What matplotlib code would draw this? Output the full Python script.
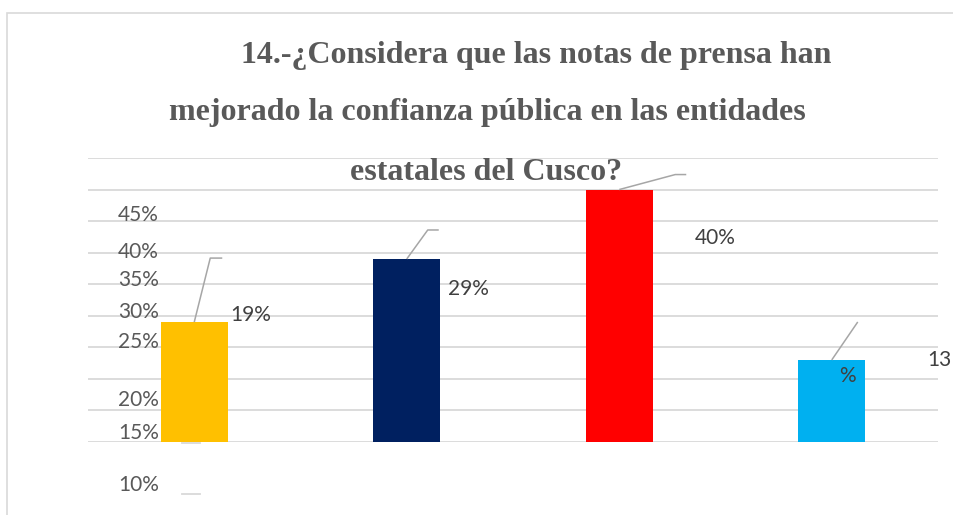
import matplotlib
matplotlib.use("Agg")
import matplotlib.pyplot as plt
from matplotlib.patches import Rectangle

# ---- data ----
categories = ["Sí", "No", "A veces", "No sabe"]
values = [19, 29, 40, 13]
bar_colors = ["#FFC000", "#002060", "#FF0000", "#00B0F0"]
data_labels = ["19%", "29%", "40%", "%"]
tick_labels = ["45%", "40%", "35%", "30%", "25%", "20%", "15%", "10%"]
grid_values = [0, 5, 10, 15, 20, 25, 30, 35, 40, 45]
title_lines = ["14.-¿Considera que las notas de prensa han",
               "mejorado la confianza pública en las entidades",
               "estatales del Cusco?"]

# ---- layout (pixels) ----
W, H = 954, 515
fig = plt.figure(figsize=(W / 100, H / 100), dpi=100)
ax_left, ax_right, ax_bottom_px, ax_top_px = 88, 938, 442, 158
ax = fig.add_axes([ax_left / W, 1 - ax_bottom_px / H,
                   (ax_right - ax_left) / W, (ax_bottom_px - ax_top_px) / H])
ax.set_xlim(-0.5, 3.5)
ax.set_ylim(0, 45)
ax.axis("off")

grid_col = "#D9D9D9"
for g in grid_values:
    ax.axhline(g, color=grid_col, lw=1.3, zorder=0)

x = list(range(len(categories)))
ax.bar(x, values, width=0.316, color=bar_colors, zorder=2)

def px2data(px, py):
    return ax.transData.inverted().transform(fig.transFigure.transform((px / W, 1 - py / H)))

def data2px(dx, dy):
    fx, fy = fig.transFigure.inverted().transform(ax.transData.transform((dx, dy)))
    return fx * W, (1 - fy) * H

# leader lines: offsets (pixels) from bar top centre
leaders = [[(16, -64), (28, -64)],
           [(21, -29), (32, -29)],
           [(56, -15), (67, -15)],
           [(26, -38)]]
label_offsets = [(36, -7), (41, 30), (76, 48), (7, 16)]
lab_font = ["Lato", "DejaVu Sans"]
txt_col = "#404040"
fs = 15
for i, v in enumerate(values):
    bx, by = data2px(i, v)
    pts = [(bx, by)] + [(bx + dx, by + dy) for dx, dy in leaders[i]]
    dpts = [px2data(px, py) for px, py in pts]
    ax.plot([p[0] for p in dpts], [p[1] for p in dpts], color="#A6A6A6",
            lw=1.1, zorder=3, clip_on=False, solid_capstyle="butt")
    lx, ly = px2data(bx + label_offsets[i][0], by + label_offsets[i][1])
    ax.text(lx, ly, data_labels[i], ha="left", va="center", fontsize=fs,
            color=txt_col, family=lab_font, zorder=4, clip_on=False)

# stray "13" fragment at right edge
fig.text(952 / W, 1 - 360 / H, "13", ha="right", va="center", fontsize=fs,
         color=txt_col, family=lab_font)

# misplaced axis labels
tick_y_px = [215, 252, 280, 312, 342, 400, 433, 485]
for lab, ty in zip(tick_labels, tick_y_px):
    fig.text(159 / W, 1 - ty / H, lab, ha="right", va="center", fontsize=fs,
             color="#595959", family=lab_font)

# small grey tick marks
for ty in [443, 494]:
    fig.add_artist(plt.Line2D([182 / W, 200 / W], [1 - ty / H, 1 - ty / H],
                              color=grid_col, lw=1.3))

# title
title_pos = [(536, 63), (487, 120), (486, 180)]
for line, (tx, ty) in zip(title_lines, title_pos):
    fig.text(tx / W, 1 - ty / H, line, ha="center", va="baseline",
             fontsize=23, fontweight="bold", color="#595959",
             family="Liberation Serif")

# chart border
fig.add_artist(Rectangle((7 / W, -0.1), 1.2, 1 - 13 / H + 0.1, transform=fig.transFigure,
                         fill=False, edgecolor=grid_col, lw=1.2))

fig.savefig("out.png", dpi=100)
